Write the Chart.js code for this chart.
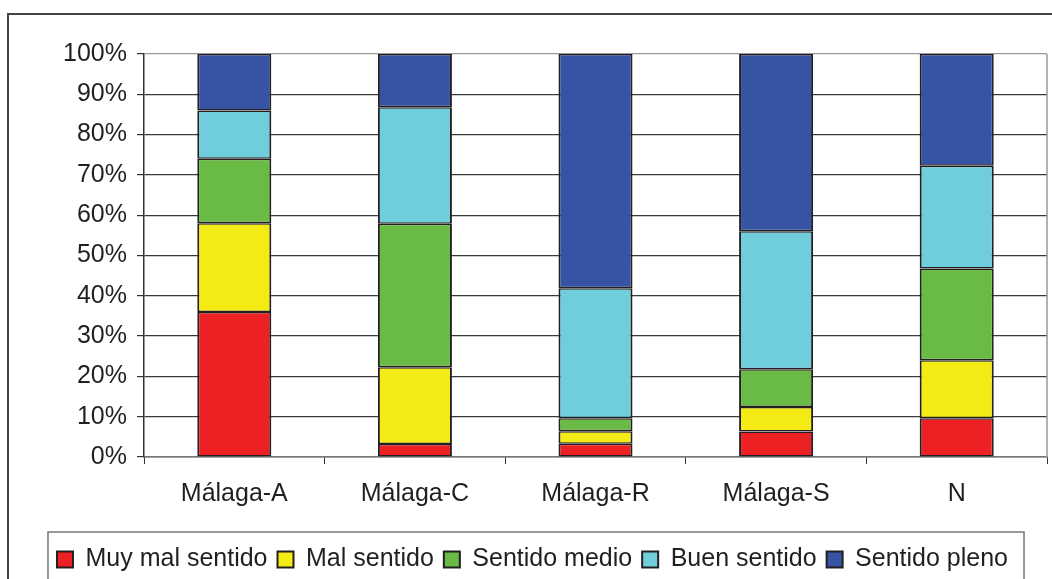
<!DOCTYPE html>
<html>
<head>
<meta charset="utf-8">
<script src="https://cdn.jsdelivr.net/npm/chart.js@4/dist/chart.umd.min.js"></script>
<style>
  html, body { margin: 0; padding: 0; background: #fff; }
  #wrap { width: 1052px; height: 579px; }
</style>
</head>
<body>
<div id="wrap"><canvas id="chart" width="1052" height="579"></canvas></div>
<script>
// categories and series (percent of each bar)
const categories = ["Málaga-A", "Málaga-C", "Málaga-R", "Málaga-S", "N"];
const muyMal = [36, 3.2, 3.3, 6.3, 9.6];
const mal = [22, 19.1, 3.1, 6.1, 14.4];
const medio = [16, 35.6, 3.2, 9.4, 22.8];
const bueno = [12, 28.9, 32.3, 34.2, 25.5];
const pleno = [14, 13.2, 58.1, 44.0, 27.7];
const yTicks = [0, 10, 20, 30, 40, 50, 60, 70, 80, 90, 100];

const ink = "#231F20";

function series(label, data, color) {
    return {
        label: label,
        data: data,
        backgroundColor: color,
        borderColor: ink,
        borderWidth: { left: 2, right: 2, top: 1.5, bottom: 1.5 },
        borderSkipped: false,
        categoryPercentage: 1,
        barPercentage: 0.41
    };
}

// outer frame, right plot border and legend frame
const frames = {
    id: "frames",
    afterDraw(chart) {
        const c = chart.ctx;
        const a = chart.chartArea;
        c.save();
        c.strokeStyle = "#999";
        c.lineWidth = 1.5;
        c.beginPath();
        c.moveTo(a.right, a.top);
        c.lineTo(a.right, a.bottom);
        c.stroke();

        c.strokeStyle = "#444";
        c.lineWidth = 2;
        c.beginPath();
        c.moveTo(8, 579);
        c.lineTo(8, 14);
        c.lineTo(1052, 14);
        c.stroke();

        const boxes = chart.legend.legendHitBoxes;
        if (boxes && boxes.length) {
            const first = boxes[0];
            const last = boxes[boxes.length - 1];
            c.strokeStyle = "#777";
            c.lineWidth = 1.5;
            c.strokeRect(first.left - 9, first.top - 15, last.left + last.width + 16 - (first.left - 9), 80);
        }
        c.restore();
    }
};

new Chart(document.getElementById("chart").getContext("2d"), {
    type: "bar",
    data: {
        labels: categories,
        datasets: [
            series("Muy mal sentido", muyMal, "#ED2024"),
            series("Mal sentido", mal, "#F5EB14"),
            series("Sentido medio", medio, "#6ABB45"),
            series("Buen sentido", bueno, "#6FCDDC"),
            series("Sentido pleno", pleno, "#3753A4")
        ]
    },
    options: {
        responsive: false,
        animation: false,
        layout: { padding: { left: 18, right: 5, top: 54, bottom: -3 } },
        plugins: {
            tooltip: { enabled: false },
            legend: {
                position: "bottom",
                labels: {
                    boxWidth: 16,
                    boxHeight: 16,
                    padding: 10,
                    color: ink,
                    font: { family: "Liberation Sans, Arial", size: 25 },
                    generateLabels(chart) {
                        return chart.data.datasets.map((ds, i) => ({
                            text: ds.label,
                            fillStyle: ds.backgroundColor,
                            strokeStyle: ink,
                            lineWidth: 2,
                            fontColor: ink,
                            hidden: false,
                            datasetIndex: i
                        }));
                    }
                }
            }
        },
        scales: {
            x: {
                stacked: true,
                grid: { drawOnChartArea: false, tickLength: 7, tickColor: "#333", offset: true },
                border: { color: "#777", width: 1.5 },
                ticks: { color: ink, padding: 15, font: { family: "Liberation Sans, Arial", size: 25 } },
                afterFit(scale) { scale.height = 80; }
            },
            y: {
                stacked: true,
                min: 0,
                max: 100,
                afterBuildTicks(scale) { scale.ticks = yTicks.map(v => ({ value: v })); },
                grid: {
                    color: ctx => ctx.tick && ctx.tick.value === 100 ? "#999" : "#3a3a3a",
                    lineWidth: 1.2,
                    tickLength: 7,
                    tickColor: "#333"
                },
                border: { color: "#333", width: 1.5 },
                ticks: {
                    color: ink,
                    padding: 10,
                    font: { family: "Liberation Sans, Arial", size: 25 },
                    callback: v => v + "%"
                },
                afterFit(scale) { scale.width = 126; }
            }
        }
    },
    plugins: [frames]
});
</script>
</body>
</html>
